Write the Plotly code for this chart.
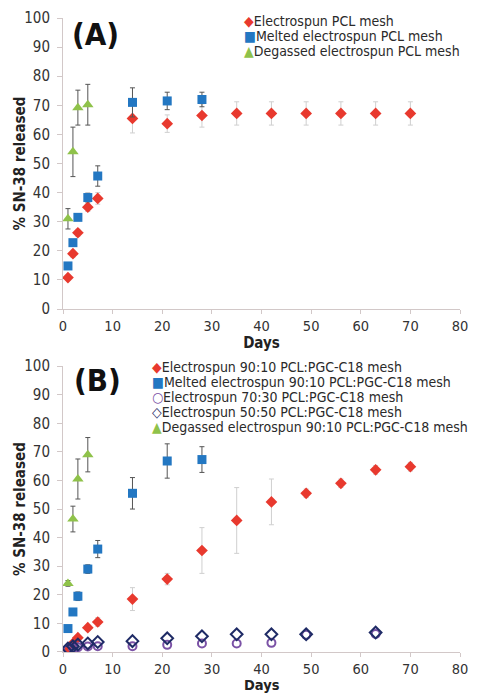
import plotly.graph_objects as go
from plotly.subplots import make_subplots

# ---------------- Data: Panel A ----------------
days_long = [1, 2, 3, 5, 7, 14, 21, 28, 35, 42, 49, 56, 63, 70]
days_mid = [1, 2, 3, 5, 7, 14, 21, 28]
days_short = [1, 2, 3, 5]
days_blend = [1, 2, 3, 5, 7, 14, 21, 28, 35, 42, 49, 63]

a_electro = [10.8, 19.0, 26.2, 35.0, 38.0, 65.5, 63.7, 66.5, 67.2, 67.2, 67.2, 67.2, 67.2, 67.2]
a_electro_err = [1.0, 1.2, 1.2, 1.5, 2.0, 5.0, 3.0, 4.0, 4.0, 4.0, 4.0, 4.0, 4.0, 4.0]
a_melted = [14.8, 22.8, 31.5, 38.3, 45.7, 71.0, 71.5, 72.0]
a_melted_err = [0.8, 1.0, 1.0, 1.5, 3.5, 5.0, 3.0, 2.5]
a_degassed = [31.0, 54.0, 69.2, 70.2]
a_degassed_err = [3.5, 8.5, 6.0, 7.0]

# ---------------- Data: Panel B ----------------
b_electro9010 = [1.5, 3.0, 5.0, 8.5, 10.5, 18.5, 25.5, 35.5, 46.0, 52.5, 55.5, 59.0, 63.7, 64.8]
b_electro9010_err = [0.3, 0.5, 0.5, 1.0, 1.5, 4.0, 2.0, 8.0, 11.5, 8.0, 1.5, 1.5, 1.5, 1.5]
b_melted9010 = [8.2, 14.0, 19.5, 29.0, 36.0, 55.5, 66.8, 67.3]
b_melted9010_err = [0.8, 1.0, 1.5, 1.5, 3.0, 5.5, 6.0, 4.5]
b_electro7030 = [1.0, 1.4, 1.7, 1.9, 2.0, 2.0, 2.5, 3.0, 3.0, 3.2, 6.0, 6.3]
b_electro5050 = [1.2, 2.0, 2.6, 3.0, 3.5, 3.8, 4.8, 5.5, 6.2, 6.2, 6.2, 6.8]
b_degassed9010 = [24.0, 46.5, 60.5, 69.0]
b_degassed9010_err = [1.0, 4.5, 7.0, 6.0]

legend_a = ["Electrospun PCL mesh", "Melted electrospun PCL mesh", "Degassed electrospun PCL mesh"]
legend_b = ["Electrospun 90:10 PCL:PGC-C18 mesh", "Melted electrospun 90:10 PCL:PGC-C18 mesh",
            "Electrospun 70:30 PCL:PGC-C18 mesh", "Electrospun 50:50 PCL:PGC-C18 mesh",
            "Degassed electrospun 90:10 PCL:PGC-C18 mesh"]

x_ticks = list(range(0, 81, 10))
y_ticks = list(range(0, 101, 10))

RED = "#e8392e"
BLUE = "#2377c2"
GREEN = "#8fc24a"
PURPLE = "#7b52a6"
NAVY = "#1f2b66"
LIGHT_ERR = "#cfcfcf"
DARK_ERR = "#555555"
FONT = "DejaVu Sans Condensed"

fig = make_subplots(rows=2, cols=1)


def err(vals, color):
    return dict(type="data", array=vals, visible=True, color=color, thickness=1, width=2.5)


# Panel A
fig.add_trace(go.Scatter(x=days_long, y=a_electro, mode="markers", name=legend_a[0],
                         error_y=err(a_electro_err, LIGHT_ERR),
                         marker=dict(symbol="diamond", size=9, color=RED)), row=1, col=1)
fig.add_trace(go.Scatter(x=days_mid, y=a_melted, mode="markers", name=legend_a[1],
                         error_y=err(a_melted_err, DARK_ERR),
                         marker=dict(symbol="square", size=9, color=BLUE)), row=1, col=1)
fig.add_trace(go.Scatter(x=days_short, y=a_degassed, mode="markers", name=legend_a[2],
                         error_y=err(a_degassed_err, DARK_ERR),
                         marker=dict(symbol="triangle-up", size=10, color=GREEN)), row=1, col=1)

# Panel B
fig.add_trace(go.Scatter(x=days_long, y=b_electro9010, mode="markers", name=legend_b[0],
                         error_y=err(b_electro9010_err, LIGHT_ERR),
                         marker=dict(symbol="diamond", size=9, color=RED)), row=2, col=1)
fig.add_trace(go.Scatter(x=days_mid, y=b_melted9010, mode="markers", name=legend_b[1],
                         error_y=err(b_melted9010_err, DARK_ERR),
                         marker=dict(symbol="square", size=9, color=BLUE)), row=2, col=1)
fig.add_trace(go.Scatter(x=days_blend, y=b_electro7030, mode="markers", name=legend_b[2],
                         marker=dict(symbol="circle-open", size=8, color=PURPLE,
                                     line=dict(width=2, color=PURPLE))), row=2, col=1)
fig.add_trace(go.Scatter(x=days_blend, y=b_electro5050, mode="markers", name=legend_b[3],
                         marker=dict(symbol="diamond-open", size=9, color=NAVY,
                                     line=dict(width=2, color=NAVY))), row=2, col=1)
fig.add_trace(go.Scatter(x=days_short, y=b_degassed9010, mode="markers", name=legend_b[4],
                         error_y=err(b_degassed9010_err, DARK_ERR),
                         marker=dict(symbol="triangle-up", size=10, color=GREEN)), row=2, col=1)

axis_common = dict(showgrid=False, zeroline=False, showline=True, linecolor="#d2c8c8", linewidth=1,
                   ticks="outside", tickcolor="#d2c8c8")

title_font = dict(family=FONT, size=15, color="#222222")
xtick_font = dict(family=FONT, size=14.5, color="#333333")
ytick_font = dict(family=FONT, size=15, color="#333333")
fig.update_xaxes(range=[0, 80], tickvals=x_ticks, ticklen=4, tickfont=xtick_font, **axis_common,
                 title=dict(text="<b>Days</b>", font=title_font, standoff=2), row=1, col=1)
fig.update_xaxes(range=[0, 80], tickvals=x_ticks, ticklen=4, tickfont=xtick_font, **axis_common,
                 row=2, col=1)
fig.update_yaxes(range=[0, 100], tickvals=y_ticks, ticklen=5, ticklabelstandoff=4,
                 tickfont=ytick_font, **axis_common)

DOM_A = [0.541, 1.0]
DOM_B = [0.0, 0.451]
fig.update_layout(
    yaxis=dict(domain=DOM_A),
    yaxis2=dict(domain=DOM_B),
    xaxis=dict(anchor="y"),
    xaxis2=dict(anchor="y2"),
)

annotations = []
# Axis titles placed as annotations
annotations.append(dict(text="<b>Days</b>", xref="x2 domain", yref="paper", x=0.5, y=0,
                        yshift=-33, xanchor="center", yanchor="middle", showarrow=False,
                        font=dict(family=FONT, size=14.5, color="#222222")))
for dom in (DOM_A, DOM_B):
    annotations.append(dict(text="<b>% SN-38 released</b>", xref="paper", yref="paper",
                            x=0, y=(dom[0] + dom[1]) / 2, xshift=-43, textangle=-90,
                            xanchor="center", yanchor="middle", showarrow=False, font=title_font))
# Panel labels
annotations.append(dict(text="<b>(A)</b>", xref="paper", yref="paper", x=0.0, y=1.0,
                        xshift=7, yshift=-16, xanchor="left", yanchor="middle", showarrow=False,
                        font=dict(family=FONT, size=31, color="#111111")))
annotations.append(dict(text="<b>(B)</b>", xref="paper", yref="paper", x=0.0, y=0.451,
                        xshift=9, yshift=-14, xanchor="left", yanchor="middle", showarrow=False,
                        font=dict(family=FONT, size=31, color="#111111")))

# Legends drawn as annotations
sym_a = [("◆", RED), ("■", BLUE), ("▲", GREEN)]
for i, (label, (s, c)) in enumerate(zip(legend_a, sym_a)):
    annotations.append(dict(text=f"<span style='color:{c}'>{s}</span>{label}",
                            xref="paper", yref="paper", x=(246 - 63) / 405, y=1.0,
                            yshift=-(3 + 15 * i), xanchor="left", yanchor="middle", showarrow=False,
                            font=dict(family=FONT, size=14, color="#2a2a2a")))
sym_b = [("◆", RED), ("■", BLUE), ("○", PURPLE), ("◇", NAVY), ("▲", GREEN)]
for i, (label, (s, c)) in enumerate(zip(legend_b, sym_b)):
    annotations.append(dict(text=f"<span style='color:{c}'><b>{s}</b></span>{label}",
                            xref="paper", yref="paper", x=(152 - 63) / 405, y=0.451,
                            yshift=-(1 + 15 * i), xanchor="left", yanchor="middle", showarrow=False,
                            font=dict(family=FONT, size=14, color="#2a2a2a")))

fig.update_layout(
    width=477, height=693,
    margin=dict(l=63, r=9, t=18, b=41),
    paper_bgcolor="white", plot_bgcolor="white",
    showlegend=False,
    annotations=annotations,
    font=dict(family=FONT),
)

fig.write_html("out.html", config={"displayModeBar": False},
               post_script="document.body.style.margin='0px';")
